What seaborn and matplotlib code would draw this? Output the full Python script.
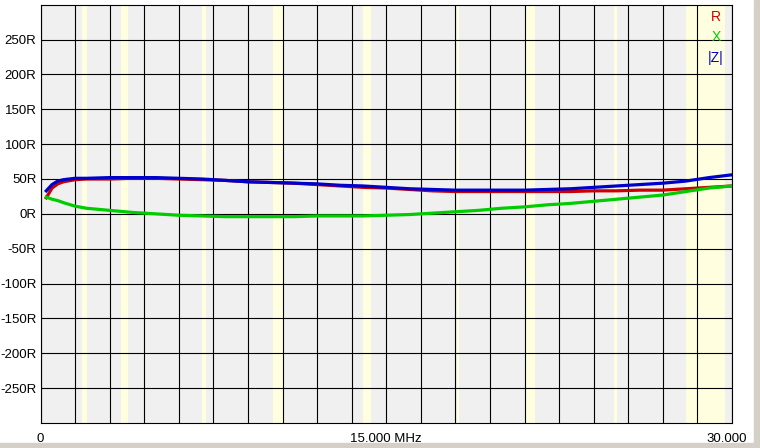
import numpy as np
import pandas as pd
import matplotlib
matplotlib.use("Agg")
import matplotlib.pyplot as plt
import seaborn as sns
from matplotlib.transforms import ScaledTranslation
from matplotlib.patches import Rectangle

# impedance sweep, values
freq_mhz = [0.25, 0.5, 0.75, 1.0, 1.5, 2, 3, 4, 5, 6, 7, 8, 9, 10, 11, 12, 13, 14, 15,
            16, 17, 18, 19, 20, 21, 22, 23, 24, 25, 26, 27, 28, 29, 30]
r_ohm = [23, 37, 43, 46, 49, 50, 50, 51, 51, 50, 49, 48, 46, 45, 44, 42, 40, 38, 37,
         35, 33, 32, 32, 32, 32, 32, 32, 33, 33, 34, 34, 36, 38, 40]
x_ohm = [24, 21, 19, 16, 11, 8, 5, 2, 0, -2, -3, -4, -4, -4, -4, -3, -3, -3, -2,
         -1, 1, 3, 5, 8, 10, 13, 15, 18, 21, 24, 27, 32, 37, 40]
z_ohm = [33, 42, 47, 49, 51, 51, 52, 52, 52, 51, 50, 48, 46, 45, 44, 43, 41, 40, 38,
         36, 35, 34, 34, 34, 34, 35, 36, 38, 40, 42, 44, 47, 52, 56]

# amateur bands (MHz)
band_start = [1.8, 3.5, 7.0, 10.1, 14.0, 18.068, 21.0, 24.89, 28.0]
band_end = [2.0, 3.8, 7.2, 10.5, 14.35, 18.168, 21.45, 24.99, 29.7]

y_ticks = list(range(-250, 251, 50))
y_labels = [f"{v}R" for v in y_ticks]
x_ticks = [0, 15, 30]
x_labels = ["0", "15.000 MHz", "30.000"]

df = pd.DataFrame({"freq": freq_mhz, "R": r_ohm, "X": x_ohm, "Z": z_ohm})

plt.rcParams['font.family'] = ['Liberation Sans', 'DejaVu Sans']

fig = plt.figure(figsize=(7.6, 4.48), dpi=100, facecolor='white')
ax = fig.add_axes([40.5 / 760, 1 - 423 / 448, 691.5 / 760, 418.3 / 448])
ax.set_facecolor('#F0F0F0')

for s, e in zip(band_start, band_end):
    ax.axvspan(s, e, color='#FFFFE0', lw=0, zorder=0.2)

sns.lineplot(data=df, x='freq', y='R', color='#CC0000', lw=2.3, ax=ax, zorder=3)
sns.lineplot(data=df, x='freq', y='X', color='#00CC00', lw=2.3, ax=ax, zorder=4)
sns.lineplot(data=df, x='freq', y='Z', color='#0000CC', lw=2.3, ax=ax, zorder=5)

ax.set_xlim(0, 30)
ax.set_ylim(-300, 300)
ax.set_xticks(x_ticks)
ax.set_xticklabels(x_labels, fontsize=9.5)
ax.set_xticks(np.arange(0, 30.01, 1.5), minor=True)
ax.set_yticks(y_ticks)
ax.set_yticklabels(y_labels, fontsize=9.5)
ax.tick_params(which='both', length=0)
ax.tick_params(axis='y', pad=3)
ax.tick_params(axis='x', pad=7)
ax.set_xlabel('')
ax.set_ylabel('')
ax.set_axisbelow(True)
ax.grid(which='both', color='black', lw=0.8)
for sp in ax.spines.values():
    sp.set_color('black')
    sp.set_linewidth(0.8)

# last label sits a little inside the right edge
lbl = ax.get_xticklabels()[-1]
lbl.set_transform(lbl.get_transform() + ScaledTranslation(-5 / 100, 0, fig.dpi_scale_trans))

ax.text(0.977, 0.9706, 'R', color='#CC0000', fontsize=10, ha='center', va='center', transform=ax.transAxes)
ax.text(0.977, 0.9228, 'X', color='#00CC00', fontsize=10, ha='center', va='center', transform=ax.transAxes)
ax.text(0.976, 0.8726, '|Z|', color='#0000CC', fontsize=10, ha='center', va='center', transform=ax.transAxes)

# window frame at right and bottom
fig.patches.append(Rectangle((754 / 760, 0), 6 / 760, 1, transform=fig.transFigure, color='#D4D0C8', zorder=-1))
fig.patches.append(Rectangle((0, 0), 1, 5 / 448, transform=fig.transFigure, color='#D4D0C8', zorder=-1))

fig.savefig('out.png', dpi=100, facecolor='white')
